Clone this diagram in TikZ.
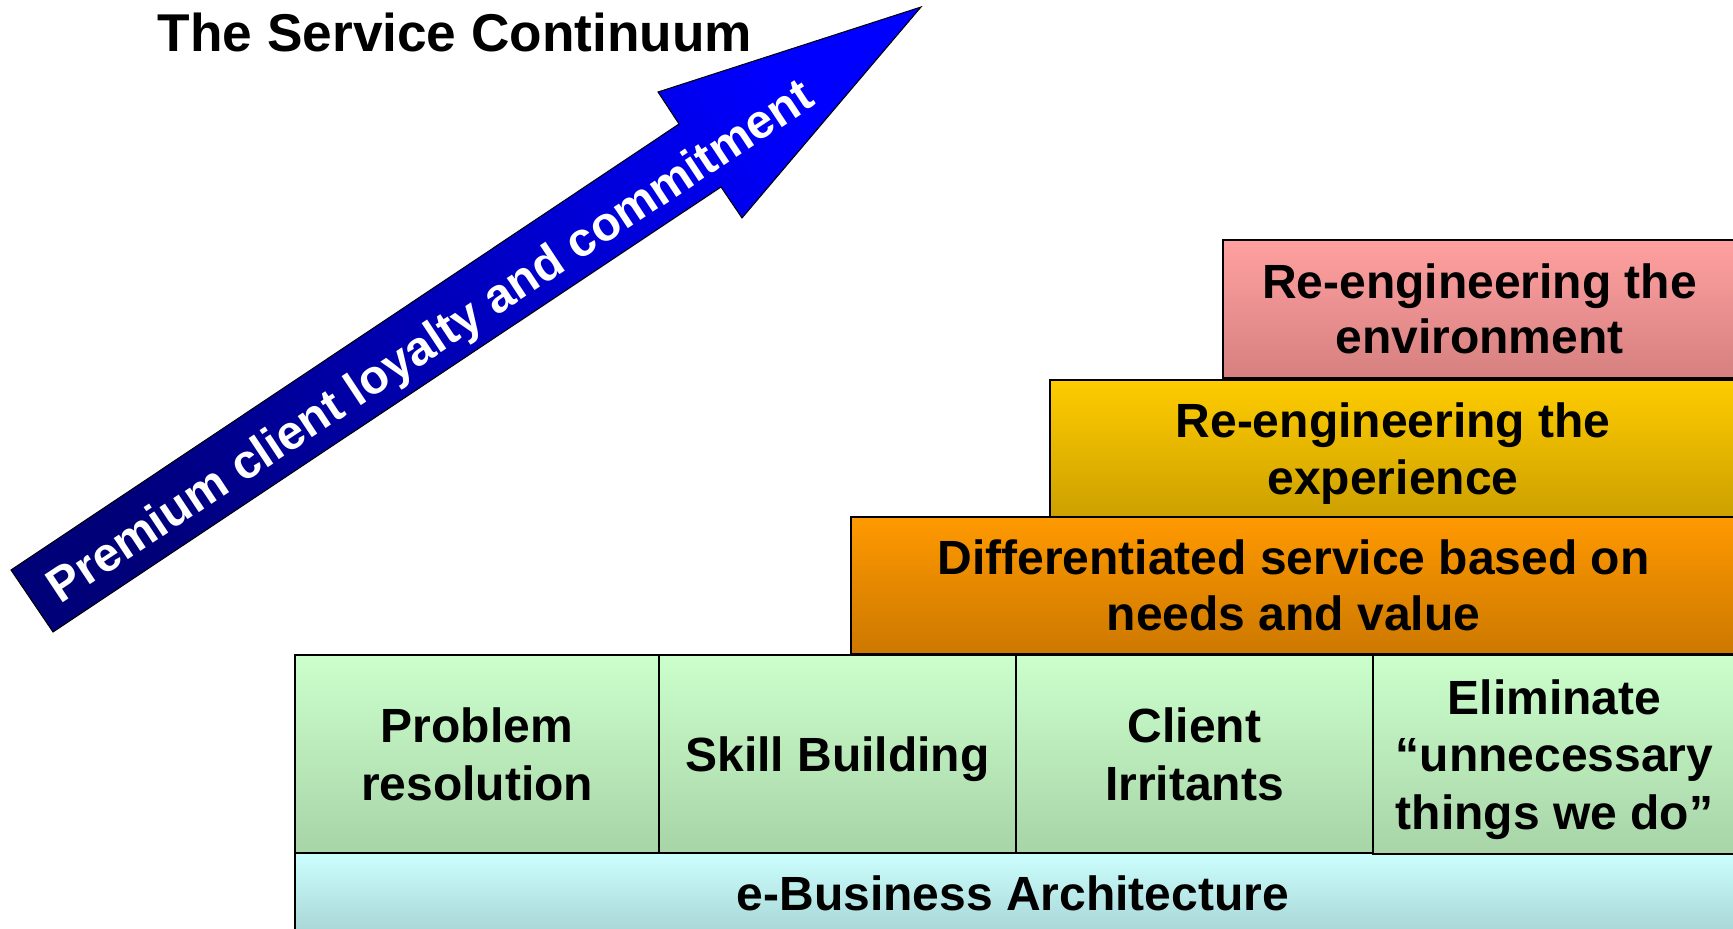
\documentclass[tikz,border=0pt]{standalone}
\usepackage{fontspec}
\setmainfont{Liberation Sans}

% gradient end colours (top / bottom)
\definecolor{envTop}{RGB}{255,160,160}
\definecolor{envBot}{RGB}{214,128,128}
\definecolor{expTop}{RGB}{255,204,0}
\definecolor{expBot}{RGB}{204,160,0}
\definecolor{difTop}{RGB}{255,153,0}
\definecolor{difBot}{RGB}{204,120,0}
\definecolor{grnTop}{RGB}{204,255,204}
\definecolor{grnBot}{RGB}{168,212,168}
\definecolor{cyaTop}{RGB}{204,255,255}
\definecolor{cyaBot}{RGB}{166,210,210}
\definecolor{arrHead}{RGB}{0,0,255}
\definecolor{arrTail}{RGB}{0,0,120}

\begin{document}
\begin{tikzpicture}[x=0.5pt,y=-0.5pt,
  box/.style={draw=black, line width=1pt, rectangle, inner sep=0pt,
    anchor=north west, align=center, text depth=0pt,
    font=\fontsize{24}{27.5}\selectfont\bfseries},
  widelines/.style={font=\fontsize{24}{28.7}\selectfont\bfseries},
  greenbox/.style={box, widelines, top color=grnTop, bottom color=grnBot,
    minimum height=99pt},
  arrowtext/.style={text=white, inner sep=0pt,
    font=\fontsize{24}{28}\selectfont\bfseries},
  titletext/.style={inner sep=0pt, anchor=base,
    font=\fontsize{26.6}{30}\selectfont\bfseries}]

\useasboundingbox (0,0) rectangle (1733,929);

% title
\node[titletext] (title) at (455,52) {The Service Continuum};

% rising arrow
\shade[draw=black, line width=0.5pt, top color=arrHead, bottom color=arrTail,
  shading angle=-56]
  (11,570) -- (679,124) -- (658,92) -- (921,7) -- (742,218)
  -- (721,187) -- (53,632) -- cycle;
\node[arrowtext, rotate=33.5] (loyalty) at (432,344)
  {Premium client loyalty and commitment};

% foundation
\node[box, top color=cyaTop, bottom color=cyaBot,
  minimum width=720.5pt, minimum height=43pt] (ebiz) at (294,852) {};
\node[font=\fontsize{24}{27.5}\selectfont\bfseries, inner sep=0pt,
  anchor=base] (ebiztext) at (1013,910) {e-Business Architecture};

% green row
\node[greenbox, minimum width=182pt] (prob) at (294,654)
  {Problem\\resolution};
\node[greenbox, minimum width=178.5pt] (skill) at (658,654)
  {Skill Building};
\node[greenbox, minimum width=178.5pt] (irrit) at (1015,654)
  {Client\\Irritants};
\node[greenbox, minimum width=181.5pt, minimum height=99.5pt] (elim) at (1372,654)
  {Eliminate\\“unnecessary\\things we do”};

% upper steps
\node[box, font=\fontsize{24}{28}\selectfont\bfseries,
  top color=difTop, bottom color=difBot,
  minimum width=442.5pt, minimum height=68.5pt] (diff) at (850,516)
  {Differentiated service based on\\needs and value};
\node[box, widelines, top color=expTop, bottom color=expBot,
  minimum width=343pt, minimum height=68.5pt] (exp) at (1049,379)
  {Re-engineering the\\experience};
\node[box, top color=envTop, bottom color=envBot,
  minimum width=256.5pt, minimum height=69pt] (env) at (1222,239)
  {Re-engineering the\\environment};

\end{tikzpicture}
\end{document}
